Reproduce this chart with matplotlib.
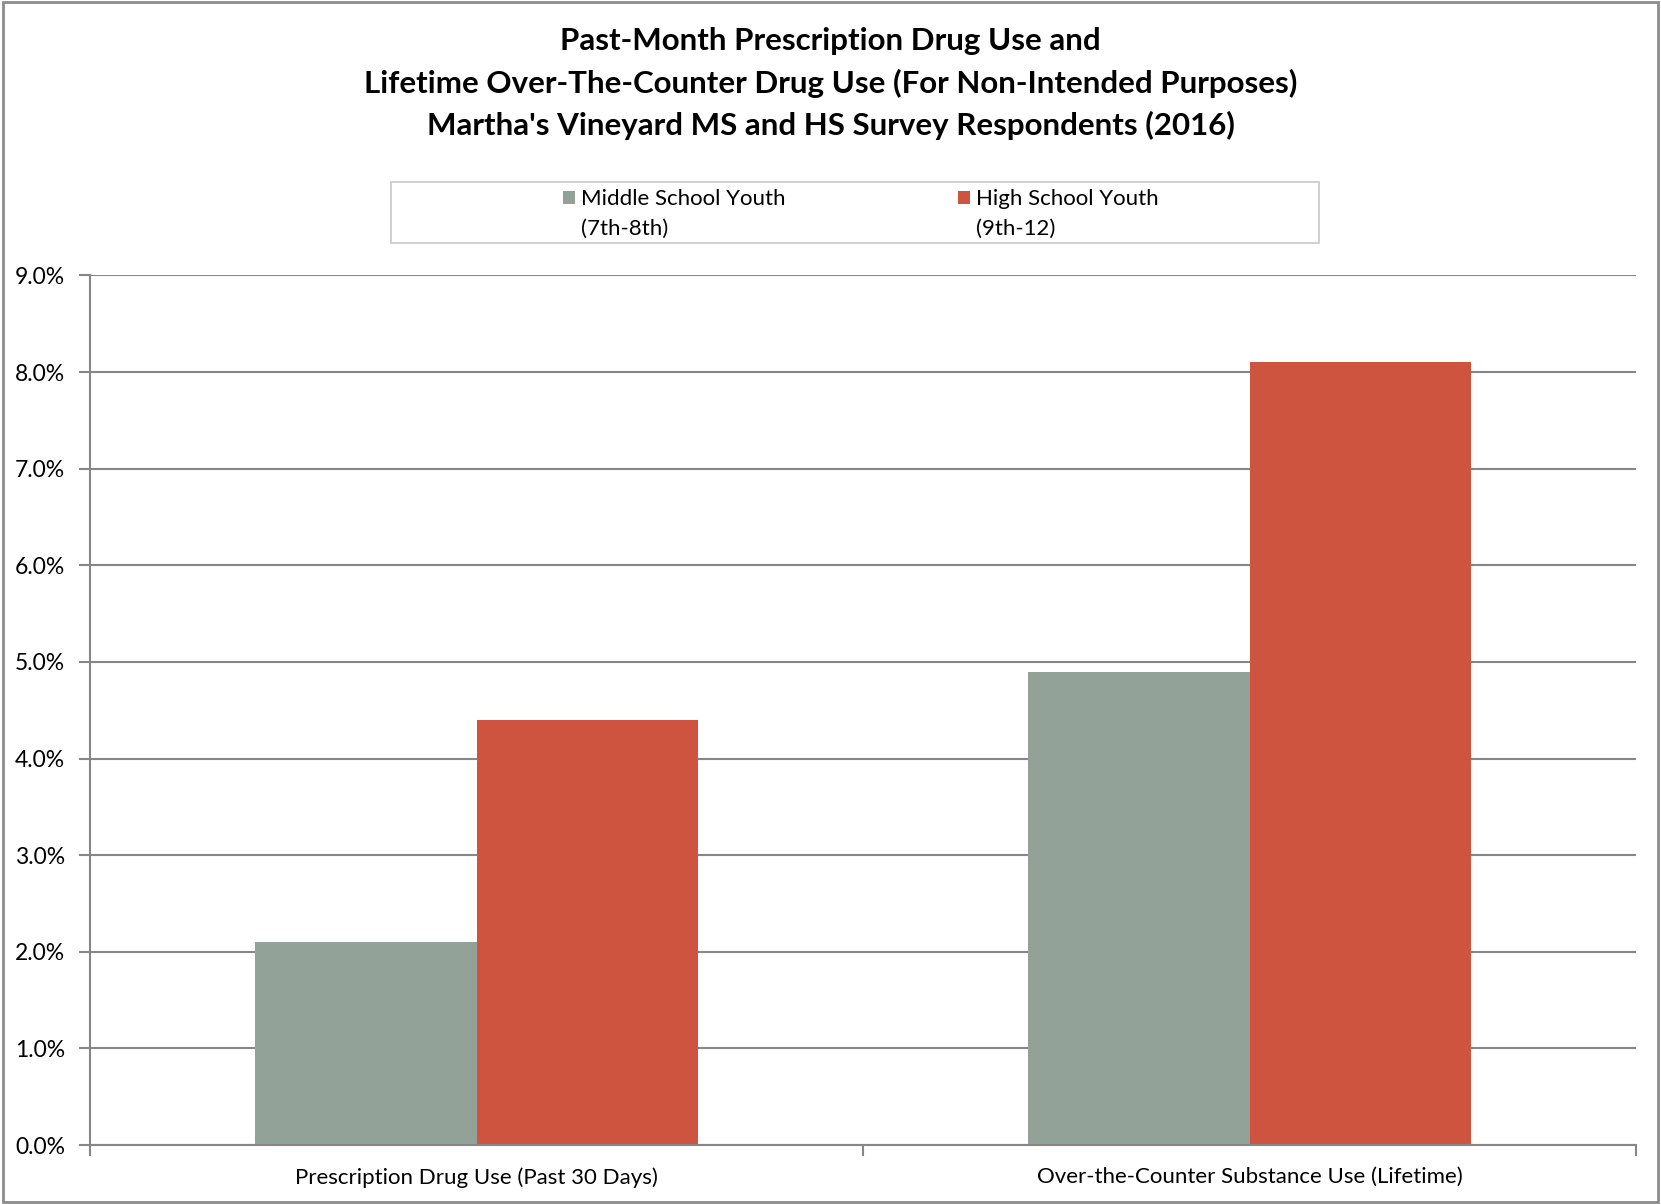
import matplotlib
matplotlib.use("Agg")
import matplotlib.pyplot as plt
import matplotlib.patches as mpatches
from matplotlib.ticker import FuncFormatter, FixedLocator
import numpy as np

# Data
categories = ["Prescription Drug Use (Past 30 Days)", "Over-the-Counter Substance Use (Lifetime)"]
middle_school = [2.1, 4.9]
high_school = [4.4, 8.1]
series_labels = [("Middle School Youth", "(7th-8th)"), ("High School Youth", "(9th-12)")]
title_lines = [
    "Past-Month Prescription Drug Use and",
    "Lifetime Over-The-Counter Drug Use (For Non-Intended Purposes)",
    "Martha's Vineyard MS and HS Survey Respondents (2016)",
]

MS_COLOR = "#93A299"
HS_COLOR = "#CF543F"
GRID = "#868686"

plt.rcParams["font.family"] = ["Lato", "DejaVu Sans"]

W, H = 1661, 1204
fig = plt.figure(figsize=(W / 100, H / 100), dpi=100)
ax = fig.add_axes([0.0542, 0.049, 0.9308, 0.7222])

x = np.arange(len(categories))
w = 0.286
ax.bar(x - w / 2, middle_school, width=w, color=MS_COLOR, zorder=3)
ax.bar(x + w / 2, high_school, width=w, color=HS_COLOR, zorder=3)

ax.set_xlim(-0.5, len(categories) - 0.5)
ax.set_ylim(0, 9)
ax.set_yticks(np.arange(0, 9.01, 1))
ax.yaxis.set_major_formatter(FuncFormatter(lambda v, _: f"{v:.1f}%"))
ax.grid(axis="y", color=GRID, linewidth=1.5, zorder=0)

# category boundaries as ticks, labels on centres
ax.xaxis.set_major_locator(FixedLocator(np.arange(-0.5, len(categories), 1.0)))
ax.xaxis.set_minor_locator(FixedLocator(x))
ax.set_xticklabels([""] * (len(categories) + 1))
ax.set_xticklabels(categories, minor=True)
ax.tick_params(axis="x", which="major", length=8, width=1.5, color=GRID, direction="out")
ax.tick_params(axis="x", which="minor", length=0, pad=16, labelsize=16)
ax.tick_params(axis="y", length=8, width=1.5, color=GRID, direction="out", labelsize=16.5, pad=10)

for s in ["top", "right"]:
    ax.spines[s].set_visible(False)
for s in ["left", "bottom"]:
    ax.spines[s].set_color(GRID)
    ax.spines[s].set_linewidth(1.5)
    ax.spines[s].set_zorder(4)

# title
for i, line in enumerate(title_lines):
    fig.text(0.5, 1 - (41 + 42 * i) / H, line, ha="center", va="center",
             fontsize=22.5, fontweight="bold", color="black")

# legend box
fig.patches.append(mpatches.Rectangle((391 / W, 1 - 243 / H), (1319 - 391) / W, 61 / H,
                                      transform=fig.transFigure, facecolor="white",
                                      edgecolor="#C8C8C8", linewidth=1.2))
for lx, color, (l1, l2) in [(569, MS_COLOR, series_labels[0]), (964, HS_COLOR, series_labels[1])]:
    fig.patches.append(mpatches.Rectangle(((lx - 6) / W, 1 - 204 / H), 12 / W, 13 / H,
                                          transform=fig.transFigure, facecolor=color,
                                          edgecolor="none"))
    fig.text((lx + 12) / W, 1 - 199 / H, l1, ha="left", va="center", fontsize=16)
    fig.text((lx + 12) / W, 1 - 229 / H, l2, ha="left", va="center", fontsize=16)

# outer border
fig.patches.append(mpatches.Rectangle((0.002, 0.002), 0.996, 0.996, transform=fig.transFigure,
                                      facecolor="none", edgecolor="#8C8C8C", linewidth=2))

fig.savefig("out.png", dpi=100, facecolor="white")
